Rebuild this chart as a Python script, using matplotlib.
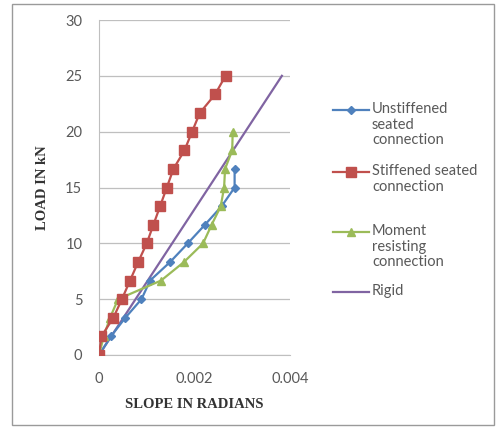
import matplotlib

matplotlib.use("Agg")
import matplotlib.pyplot as plt
from matplotlib.lines import Line2D
from matplotlib.patches import Rectangle

# load steps (kN) and measured slopes (radians)
unstiff_load = [0, 1.67, 3.33, 5, 6.67, 8.33, 10, 11.67, 13.33, 15, 16.67]
unstiff_slope = [0, 0.00025, 0.00055, 0.00089, 0.00107, 0.00149, 0.00186, 0.00222, 0.00257, 0.00284, 0.00284]

stiff_load = [0, 1.67, 3.33, 5, 6.67, 8.33, 10, 11.67, 13.33, 15, 16.67, 18.33, 20, 21.67, 23.33, 25]
stiff_slope = [0, 0.00005, 0.0003, 0.00048, 0.00065, 0.00082, 0.001, 0.00114, 0.00128, 0.00142,
               0.00156, 0.00179, 0.00195, 0.00211, 0.00243, 0.00265]

moment_load = [0, 1.67, 3.33, 5, 6.67, 8.33, 10, 11.67, 13.33, 15, 16.67, 18.33, 20]
moment_slope = [0, 0.0001, 0.00023, 0.0004, 0.0013, 0.00178, 0.00218, 0.00236, 0.00255, 0.00262,
                0.00264, 0.00279, 0.0028]

rigid_load = [0, 25]
rigid_slope = [0, 0.00383]

labels = ["Unstiffened\nseated\nconnection", "Stiffened seated\nconnection",
          "Moment\nresisting\nconnection", "Rigid"]

BLUE = "#4F81BD"
RED = "#C0504D"
GREEN = "#9BBB59"
PURPLE = "#8064A2"
GRAY = "#595959"

fig = plt.figure(figsize=(4.97, 4.28), dpi=100)
W, H = 497, 428
ax = fig.add_axes([99 / W, 1 - 355 / H, 191 / W, 335 / H])

ax.plot(rigid_slope, rigid_load, color=PURPLE, lw=1.6, zorder=3)
ax.plot(unstiff_slope, unstiff_load, color=BLUE, lw=1.6, marker="D", ms=4.5, zorder=4)
ax.plot(moment_slope, moment_load, color=GREEN, lw=1.6, marker="^", ms=6, zorder=4)
ax.plot(stiff_slope, stiff_load, color=RED, lw=1.6, marker="s", ms=7, zorder=5)

ax.set_xlim(0, 0.004)
ax.set_ylim(0, 30)
ax.set_xticks([0, 0.002, 0.004])
ax.set_xticklabels(["0", "0.002", "0.004"])
ax.set_yticks(range(0, 31, 5))
ax.yaxis.grid(True, color="#BFBFBF", lw=0.9)
ax.set_axisbelow(True)
ax.tick_params(length=0, labelsize=10.5, labelcolor=GRAY, pad=12)
for lab in ax.get_xticklabels() + ax.get_yticklabels():
    lab.set_fontfamily("Lato")
for side in ["top", "right"]:
    ax.spines[side].set_visible(False)
for side in ["left", "bottom"]:
    ax.spines[side].set_color("#BFBFBF")
ax.patch.set_alpha(0)

ax.set_xlabel("SLOPE IN RADIANS", family="Liberation Serif", weight="bold",
              fontsize=10.5, color="#333333", labelpad=9)
ax.set_ylabel("LOAD IN kN", family="Liberation Serif", weight="bold",
              fontsize=10.5, color="#333333", labelpad=12)

# legend drawn like the spreadsheet: symbol level with the first text line
styles = [(BLUE, "D", 4.5), (RED, "s", 7), (GREEN, "^", 6), (PURPLE, None, 0)]
tops = [110, 172, 232, 292]
for (c, m, ms), lab, y in zip(styles, labels, tops):
    yf = 1 - y / H
    fig.add_artist(Line2D([333 / W, 369 / W], [yf, yf], color=c, lw=1.6,
                          transform=fig.transFigure))
    if m:
        fig.add_artist(Line2D([351 / W], [yf], color=c, marker=m, ms=ms,
                              transform=fig.transFigure))
    fig.text(372 / W, yf + 8 / H, lab, va="top", ha="left", family="Lato",
             fontsize=10.5, color=GRAY, linespacing=1.15)

fig.add_artist(Rectangle((12 / W, 3 / H), 482 / W, 421 / H, fill=False,
                         edgecolor="#9A9A9A", lw=1, transform=fig.transFigure))

fig.savefig("out.png", dpi=100)
